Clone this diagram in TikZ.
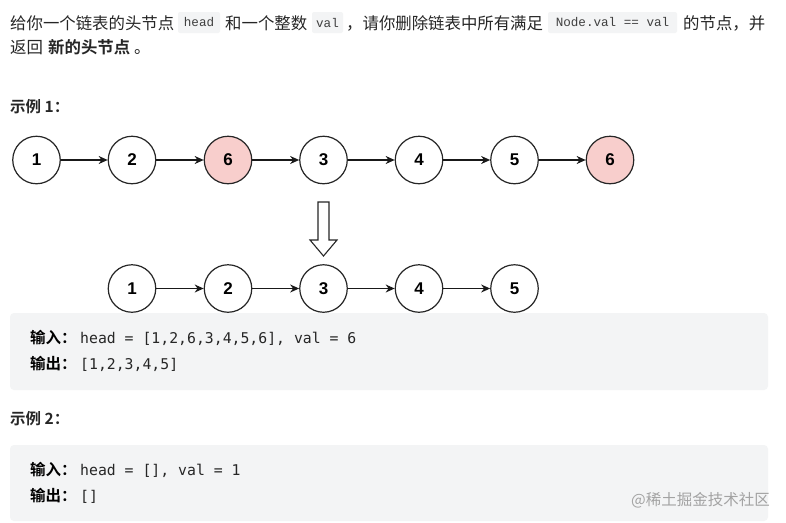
\documentclass[tikz,border=0pt]{standalone}
\usepackage{fontspec}
\usetikzlibrary{arrows.meta}
\newfontfamily\cjk{Noto Sans CJK SC}
\newfontfamily\cjkbold{Noto Sans CJK SC Bold}
\newfontfamily\arialb{Liberation Sans Bold}
\newfontfamily\inlinemono{Liberation Mono}
\newfontfamily\blockmono{DejaVu Sans Mono}
\definecolor{txt}{HTML}{262626}
\definecolor{codebg}{HTML}{F3F4F5}
\definecolor{pinkfill}{HTML}{F8CECC}
\definecolor{wm}{HTML}{A3A3A3}
\begin{document}
\begin{tikzpicture}[x=1pt,y=-1pt,
  cjktext/.style={inner sep=0, anchor=base west, text=txt, font=\cjk\fontsize{16.4}{20}\selectfont},
  cjkb/.style={inner sep=0, anchor=base west, text=txt, font=\cjkbold\fontsize{16.4}{20}\selectfont},
  head/.style={inner sep=0, anchor=base west, text=txt, font=\cjkbold\fontsize{15.5}{18}\selectfont},
  inlinecode/.style={fill=codebg, rounded corners=2pt, inner sep=0, minimum height=21, text=black!75, font=\inlinemono\fontsize{12.6}{14}\selectfont},
  blocklabel/.style={inner sep=0, anchor=base west, text=black, font=\cjkbold\fontsize{15.5}{18}\selectfont},
  blockcode/.style={inner sep=0, anchor=base west, text=txt, font=\blockmono\fontsize{14.8}{18}\selectfont},
  lnode/.style={circle, draw=black!85, line width=1.2pt, minimum size=47.5, inner sep=0, fill=white, font=\arialb\fontsize{17}{17}\selectfont},
  delnode/.style={lnode, fill=pinkfill},
  link/.style={-{Stealth[length=9pt,width=8pt]}, line width=1.1pt, draw=black!90},
  codeblock/.style={fill=codebg, rounded corners=4pt, draw=none}
]
\useasboundingbox (0,0) rectangle (786,522);
\fill[white] (0,0) rectangle (786,522);

% Line 1
\node[cjktext] (t1) at (10,29) {给你一个链表的头节点};
\node[inlinecode, minimum width=42] (c1) at (199,22.5) {head};
\node[cjktext] (t2) at (225,29) {和一个整数};
\node[inlinecode, minimum width=31] (c2) at (327.5,22.5) {val};
\node[cjktext] (t3) at (346,29) {，请你删除链表中所有满足};
\node[inlinecode, minimum width=129] (c3) at (612.5,22.5) {Node.val == val};
\node[cjktext] (t4) at (683,29) {的节点，并};
% Line 2
\node[cjktext] (t5) at (10,53) {返回};
\node[cjkb] (t6) at (48,53) {新的头节点};
\node[cjktext] (t7) at (134,53) {。};

% Example 1
\node[head] (ex1) at (10,112.7) {示例 1：};

\foreach \n/\x/\v/\s in {a1/36.5/1/lnode, a2/132/2/lnode, a3/228/6/delnode, a4/323.5/3/lnode, a5/419/4/lnode, a6/514.5/5/lnode, a7/610/6/delnode}
  \node[\s] (\n) at (\x,160) {\v};
\foreach \p/\q in {a1/a2, a2/a3, a3/a4, a4/a5, a5/a6, a6/a7}
  \draw[link] (\p) -- (\q);

% hollow arrow
\draw[line width=1.1pt, draw=black!85, fill=white, line join=miter]
  (318,202) -- (329,202) -- (329,240) -- (337,240) -- (323.5,256) -- (310,240) -- (318,240) -- cycle;

\foreach \n/\x/\v in {b1/132/1, b2/228/2, b3/323.5/3, b4/419/4, b5/514.5/5}
  \node[lnode] (\n) at (\x,288.5) {\v};
\foreach \p/\q in {b1/b2, b2/b3, b3/b4, b4/b5}
  \draw[link] (\p) -- (\q);

% code block 1
\fill[codeblock] (10,313) rectangle (768,390);
\node[blocklabel] (in1) at (30,343.7) {输入：};
\node[blockcode] (in1c) at (80,343.7) {head = [1,2,6,3,4,5,6], val = 6};
\node[blocklabel] (out1) at (30,369.2) {输出：};
\node[blockcode] (out1c) at (80,369.2) {[1,2,3,4,5]};

% Example 2
\node[head] (ex2) at (10,424.7) {示例 2：};
\fill[codeblock] (10,445) rectangle (768,521);
\node[blocklabel] (in2) at (30,475.7) {输入：};
\node[blockcode] (in2c) at (80,475.7) {head = [], val = 1};
\node[blocklabel] (out2) at (30,501.2) {输出：};
\node[blockcode] (out2c) at (80,501.2) {[]};

% watermark
\node[inner sep=0, anchor=east, text=wm, font=\cjk\fontsize{15.5}{18}\selectfont] (wmk) at (770,500) {@稀土掘金技术社区};
\end{tikzpicture}
\end{document}
